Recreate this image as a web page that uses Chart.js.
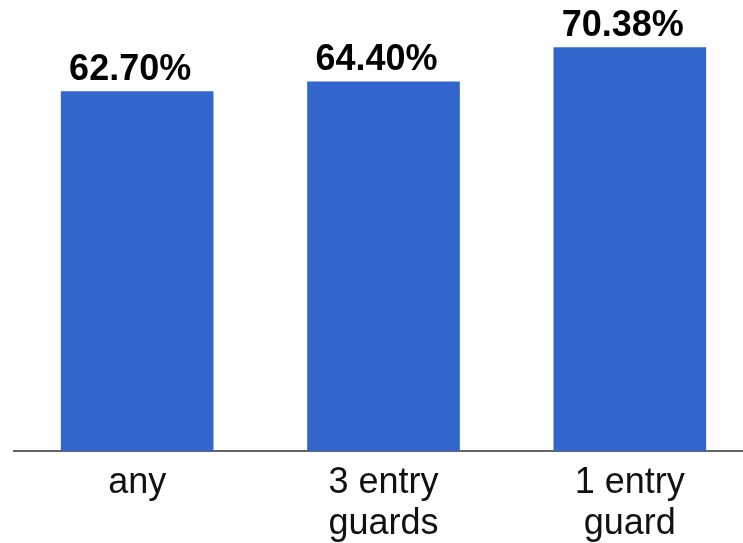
<!DOCTYPE html>
<html>
<head>
<meta charset="utf-8">
<script src="https://cdn.jsdelivr.net/npm/chart.js@4/dist/chart.umd.min.js"></script>
<style>
  html, body { margin: 0; padding: 0; background: #fff; overflow: hidden; }
  #wrap { position: absolute; left: 0; top: 0; width: 753px; height: 557px; }
</style>
</head>
<body>
<div id="wrap"><canvas id="guardChart"></canvas></div>
<script>
const categories = [["any"], ["3 entry", "guards"], ["1 entry", "guard"]];
const successRates = [62.7, 64.4, 70.38];

// value labels above each bar
const barValueLabels = {
  id: "barValueLabels",
  afterDatasetsDraw(chart) {
    const ctx = chart.ctx;
    const meta = chart.getDatasetMeta(0);
    ctx.save();
    ctx.font = "bold 36px 'Liberation Sans', Arial, sans-serif";
    ctx.fillStyle = "#000";
    ctx.textAlign = "center";
    ctx.textBaseline = "alphabetic";
    meta.data.forEach((bar, i) => {
      const v = chart.data.datasets[0].data[i];
      ctx.fillText(v.toFixed(2) + "%", bar.x - 7, bar.y - 12);
    });
    ctx.restore();
  },
};

document.addEventListener("DOMContentLoaded", () => {
  const guardChart = document.getElementById("guardChart").getContext("2d");
  new Chart(guardChart, {
    type: "bar",
    data: {
      labels: categories,
      datasets: [
        {
          data: successRates,
          backgroundColor: "#3366cc",
          barThickness: 152,
          borderWidth: 0,
        },
      ],
    },
    options: {
      responsive: true,
      maintainAspectRatio: false,
      animation: false,
      layout: { padding: { left: 14, right: 0, top: 0, bottom: 0 } },
      plugins: {
        legend: { display: false },
        tooltip: { enabled: false },
      },
      scales: {
        x: {
          grid: { display: false, drawTicks: false },
          border: { display: true, color: "#666", width: 2 },
          ticks: {
            color: "#111",
            padding: 12,
            font: { family: "'Liberation Sans', Arial, sans-serif", size: 36, lineHeight: 1.14 },
          },
        },
        y: {
          display: false,
          min: 0,
          max: 78.7,
        },
      },
    },
    plugins: [barValueLabels],
  });
});
</script>
</body>
</html>
